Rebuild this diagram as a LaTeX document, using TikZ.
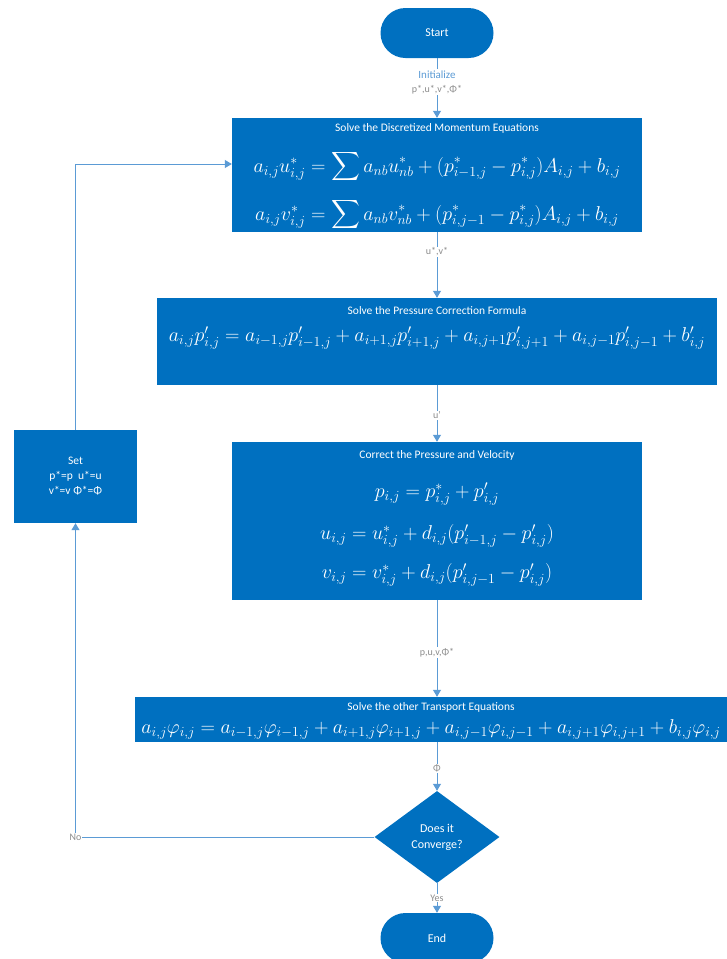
\documentclass[tikz,border=0pt]{standalone}
\usepackage{fontspec}
\setmainfont{Carlito}
\usepackage{amsmath}
\usetikzlibrary{shapes.geometric,arrows.meta}
\definecolor{boxblue}{HTML}{0070C0}
\definecolor{linkblue}{HTML}{5B9BD5}
\definecolor{labgray}{HTML}{8C8C8C}
\newcommand{\eqsize}{\fontsize{20.74}{24}\selectfont}

\begin{document}
\begin{tikzpicture}[x=1pt,y=-1pt,
    terminal/.style={fill=boxblue, rounded corners=25pt, minimum width=113pt,
      minimum height=50pt, text=white, font=\fontsize{12}{14}\selectfont},
    process/.style={fill=boxblue, inner sep=0pt},
    decision/.style={diamond, fill=boxblue, inner sep=0pt, minimum width=125pt,
      minimum height=92pt, text=white, align=center, font=\fontsize{12}{16}\selectfont},
    ttl/.style={text=white, font=\fontsize{11.5}{13}\selectfont, inner sep=0pt},
    eqn/.style={text=white, font=\eqsize, inner sep=0pt, scale=0.965, transform shape},
    link/.style={draw=linkblue, line width=1pt, -{Triangle[width=8pt,length=7pt]}},
    lbl/.style={fill=white, text=labgray, font=\fontsize{10}{14}\selectfont,
      inner sep=1pt, align=center}]
		\useasboundingbox (0,0) rectangle (727,959);

		% boxes
		\node[terminal] (start) at (437,33) {Start};
		\node[process, minimum width=410pt, minimum height=114pt] (mom) at (437,175) {};
		\node[process, minimum width=560pt, minimum height=87pt] (press) at (437,341.5) {};
		\node[process, minimum width=410pt, minimum height=158pt] (corr) at (437,521) {};
		\node[process, minimum width=592pt, minimum height=45pt] (trans) at (431,719.5) {};
		\node[decision] (conv) at (437,837) {Does it\\Converge?};
		\node[terminal] (end) at (437,938) {End};
		\node[process, minimum width=123pt, minimum height=93pt, text=white, align=center,
			font=\fontsize{11.5}{15}\selectfont] (set) at (75.5,476.5)
			{Set\\p*=p\ \ u*=u\\v*=v\ Φ*=Φ};
		\coordinate (entry) at ([yshift=11pt]mom.west);

		% texts in the boxes
		\node[ttl] (m0) at (437,128) {Solve the Discretized Momentum Equations};
		\node[eqn] (m1) at (437,167) {$a_{i,j}u^*_{i,j} = \displaystyle\sum a_{nb}u^*_{nb} + (p^*_{i-1,j} - p^*_{i,j})A_{i,j} + b_{i,j}$};
		\node[eqn] (m2) at (437,215) {$a_{i,j}v^*_{i,j} = \displaystyle\sum a_{nb}v^*_{nb} + (p^*_{i,j-1} - p^*_{i,j})A_{i,j} + b_{i,j}$};
		\node[ttl] (p0) at (437,311) {Solve the Pressure Correction Formula};
		\node[eqn] (p1) at (437,338) {$a_{i,j}p'_{i,j} = a_{i-1,j}p'_{i-1,j} + a_{i+1,j}p'_{i+1,j} + a_{i,j+1}p'_{i,j+1} + a_{i,j-1}p'_{i,j-1} + b'_{i,j}$};
		\node[ttl] (c0) at (437,455) {Correct the Pressure and Velocity};
		\node[eqn] (c1) at (437,494) {$p_{i,j} = p^*_{i,j} + p'_{i,j}$};
		\node[eqn] (c2) at (437,536) {$u_{i,j} = u^*_{i,j} + d_{i,j}(p'_{i-1,j} - p'_{i,j})$};
		\node[eqn] (c3) at (437,575) {$v_{i,j} = v^*_{i,j} + d_{i,j}(p'_{i,j-1} - p'_{i,j})$};
		\node[ttl] (t0) at (431,707) {Solve the other Transport Equations};
		\node[eqn] (t1) at (431,729) {$a_{i,j}\varphi_{i,j} = a_{i-1,j}\varphi_{i-1,j} + a_{i+1,j}\varphi_{i+1,j} + a_{i,j-1}\varphi_{i,j-1} + a_{i,j+1}\varphi_{i,j+1} + b_{i,j}\varphi_{i,j}$};

		% connectors
		\draw[link] (start) -- node[lbl, pos=0.4] {\textcolor{linkblue}{\fontsize{11}{14}\selectfont Initialize}\\p*,u*,v*,Φ*} (mom);
		\draw[link] (mom) -- node[lbl, pos=0.3] {u*,v*} (press);
		\draw[link] (press) -- node[lbl, pos=0.53] {u'} (corr);
		\draw[link] (corr.south) -- node[lbl, pos=0.54] {p,u,v,Φ*} (corr.south |- trans.north);
		\draw[link] (corr.south |- trans.south) -- node[lbl, pos=0.54] {Φ} (conv);
		\draw[link] (conv) -- node[lbl, pos=0.5] {Yes} (end);
		\draw[link] (conv.west) -| node[lbl, pos=0.5] {No} (set.south);
		\draw[link] (set.north) |- (entry);
\end{tikzpicture}
\end{document}
